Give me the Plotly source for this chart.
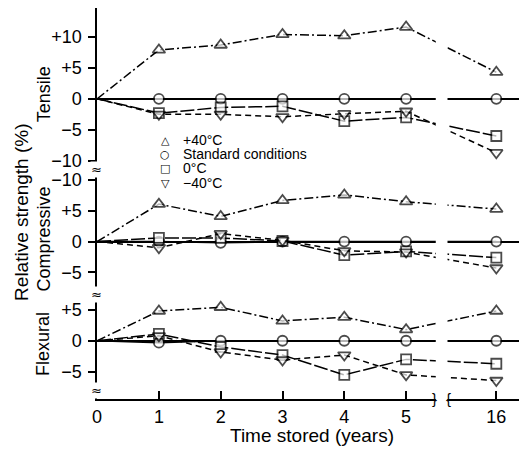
import plotly.graph_objects as go

# ---------------- data ----------------
years = [0, 1, 2, 3, 4, 5, 16]
x_tick_labels = ["0", "1", "2", "3", "4", "5", "16"]

series_names = ["+40°C", "Standard conditions", "0°C", "−40°C"]

tensile_p40 = [0, 7.9, 8.7, 10.4, 10.2, 11.6, 4.3]
tensile_std = [0, 0, 0, 0, 0, 0, 0]
tensile_0 = [0, -2.3, -1.4, -1.2, -3.6, -3.0, -6.0]
tensile_m40 = [0, -2.5, -2.5, -2.9, -2.4, -2.0, -8.7]

compressive_p40 = [0, 6.1, 4.1, 6.7, 7.6, 6.5, 5.3]
compressive_std = [0, 0, -0.2, 0, 0, 0, 0]
compressive_0 = [0, 0.6, 0.6, 0.1, -2.2, -1.6, -2.6]
compressive_m40 = [0, -1.0, 1.3, 0.2, -1.5, -1.7, -4.3]

flexural_p40 = [0, 4.8, 5.4, 3.2, 3.8, 1.8, 4.8]
flexural_std = [0, -0.3, 0, 0, 0, 0, 0]
flexural_0 = [0, 1.1, -1.0, -2.3, -5.5, -3.0, -3.7]
flexural_m40 = [0, 0.8, -1.8, -3.1, -2.3, -5.5, -6.4]

tensile_tickvals = [10, 5, 0, -5, -10]
tensile_ticktext = ["+10", "+5", "0", "−5", "−10"]
compressive_tickvals = [10, 5, 0, -5]
compressive_ticktext = ["−10", "+5", "0", "−5"]
flexural_tickvals = [5, 0, -5]
flexural_ticktext = ["+5", "0", "−5"]

panel_names = ["Tensile", "Compressive", "Flexural"]

# ---------------- layout helpers ----------------
W, H = 519, 450
FONT = "Liberation Sans, Arial, Helvetica, sans-serif"


def px(x):
    return x / W


def py(y):
    return 1 - y / H


# broken time axis: everything after the break is shifted left
BREAK_LO, BREAK_HI = 5.48, 5.67
BREAK_SHIFT = 9.54


def xpos(t):
    return t if t <= 5 else t - BREAK_SHIFT


xs = [xpos(t) for t in years]

symbols = ["triangle-up", "circle", "square", "triangle-down"]
dashes = ["9px,3px,2px,3px", "solid", "14px,3px", "6px,4px"]
msizes = [11, 10, 10, 11]

panels = [
    ("y", [tensile_p40, tensile_std, tensile_0, tensile_m40]),
    ("y2", [compressive_p40, compressive_std, compressive_0, compressive_m40]),
    ("y3", [flexural_p40, flexural_std, flexural_0, flexural_m40]),
]

fig = go.Figure()
for yref, sers in panels:
    for i, vals in enumerate(sers):
        # no marker at the common origin (t = 0)
        sizes = [0 if t == 0 else msizes[i] for t in years]
        fig.add_trace(go.Scatter(
            x=xs, y=vals, xaxis="x", yaxis=yref, mode="lines+markers",
            name=series_names[i], showlegend=False,
            line=dict(color="black", width=1.5, dash=dashes[i]),
            marker=dict(symbol=symbols[i], size=sizes, color="white",
                        line=dict(color="black", width=1.8)),
            cliponaxis=False,
        ))

yax_common = dict(
    anchor="x", showline=True, linecolor="black", linewidth=1.6,
    ticks="outside", ticklen=7, tickwidth=1.5, tickcolor="black",
    ticklabelstandoff=3,
    showgrid=False, zeroline=True, zerolinecolor="black", zerolinewidth=1.5,
    tickfont=dict(family=FONT, size=18, color="black"), tickmode="array",
)

fig.update_layout(
    width=W, height=H,
    margin=dict(l=0, r=0, t=0, b=0),
    paper_bgcolor="white", plot_bgcolor="white",
    showlegend=False,
    xaxis=dict(
        domain=[px(93), 1], range=[0, (W - 93) / 62.4], anchor="y3",
        showline=True, linecolor="black", linewidth=1.6,
        ticks="inside", ticklen=8, tickwidth=1.5, tickcolor="black",
        tickmode="array", tickvals=xs, ticktext=x_tick_labels,
        showgrid=False, zeroline=False,
        tickfont=dict(family=FONT, size=18, color="black"),
    ),
    yaxis=dict(domain=[py(170), py(8)], range=[-11.37, 14.68],
               tickvals=tensile_tickvals, ticktext=tensile_ticktext, **yax_common),
    yaxis2=dict(domain=[py(296), py(170)], range=[-8.64, 11.78],
                tickvals=compressive_tickvals, ticktext=compressive_ticktext, **yax_common),
    yaxis3=dict(domain=[py(401), py(296)], range=[-9.42, 7.43],
                tickvals=flexural_tickvals, ticktext=flexural_ticktext, **yax_common),
)

# white gap over the axis break
fig.add_shape(type="rect", xref="x", yref="paper", x0=BREAK_LO, x1=BREAK_HI,
              y0=py(405), y1=1, fillcolor="white", line=dict(width=0), layer="above")

C = dict(xanchor="center", yanchor="middle", showarrow=False,
         xref="paper", yref="paper")
ann = []
# x-axis break marks
ann.append(dict(C, x=px(434), y=py(400), text="}",
                font=dict(family=FONT, size=15, color="black")))
ann.append(dict(C, x=px(448), y=py(400), text="{",
                font=dict(family=FONT, size=15, color="black")))
# y-axis break marks
for yy in [170, 296, 392]:
    ann.append(dict(C, x=px(92), y=py(yy), text="≈",
                    font=dict(family="DejaVu Sans", size=13, color="black"),
                    bgcolor="white", borderpad=0))
# panel labels
for name, yc in zip(panel_names, [95, 240, 346]):
    ann.append(dict(C, x=px(39), y=py(yc), text=name, textangle=-90,
                    font=dict(family=FONT, size=18, color="black")))
# axis titles
ann.append(dict(C, x=px(16), y=py(213), text="Relative strength (%)",
                textangle=-90, font=dict(family=FONT, size=19, color="black")))
ann.append(dict(C, x=px(310), y=py(437), text="Time stored (years)",
                font=dict(family=FONT, size=19, color="black")))
# legend
leg_symbols = ["△", "○", "□", "▽"]
for s, name, yy in zip(leg_symbols, series_names, [141, 155, 169, 184]):
    ann.append(dict(C, x=px(162), y=py(yy), text=s,
                    font=dict(family="DejaVu Sans", size=11, color="black")))
    ann.append(dict(C, x=px(178), y=py(yy), text=name, xanchor="left",
                    font=dict(family=FONT, size=14, color="black")))
fig.update_layout(annotations=ann)

fig.write_html("out.html")
